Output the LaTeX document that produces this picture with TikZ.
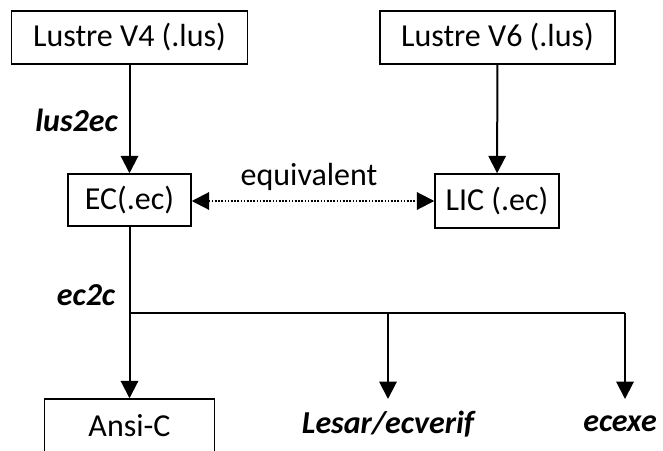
\documentclass[tikz,border=0pt]{standalone}
\usepackage{fontspec}
\setmainfont{Carlito}
\usetikzlibrary{arrows.meta}
\begin{document}
\begin{tikzpicture}[x=0.75pt,y=-0.75pt,
  box/.style={draw,line width=1.1pt,inner sep=0pt,font=\fontsize{24}{28}\selectfont},
  lbl/.style={inner sep=0pt,font=\fontsize{24}{28}\selectfont},
  tool/.style={inner sep=0pt,font=\fontsize{24}{28}\selectfont\bfseries\itshape},
  arr/.style={line width=1.5pt,-{Triangle[length=13pt,width=13pt]}},
  dotarr/.style={line width=1.5pt,dash pattern=on 1.2pt off 1.2pt,{Triangle[length=13pt,width=13pt]}-{Triangle[length=13pt,width=13pt]}},
  ln/.style={line width=1.5pt}]
\useasboundingbox (0,0) rectangle (663,450);
\node[box,minimum width=177pt,minimum height=39.75pt] (v4) at (129.5,37.5) {Lustre V4 (.lus)};
\node[box,minimum width=176.25pt,minimum height=39.75pt] (v6) at (497.5,37.5) {Lustre V6 (.lus)};
\node[box,minimum width=92.25pt,minimum height=39pt] (ec) at (129.5,200) {EC(.ec)};
\node[box,minimum width=93pt,minimum height=40.5pt] (lic) at (497,201) {LIC (.ec)};
\node[box,minimum width=127.5pt,minimum height=40.5pt] (ansi) at (129.5,426) {Ansi-C};
\node[tool] (lesar) at (388,424) {Lesar/ecverif};
\node[tool] (ecexe) at (620,424) {ecexe};
\node[tool] (l2e) at (76.5,120) {lus2ec};
\node[tool] (e2c) at (86,295) {ec2c};
\node[lbl] (eq) at (309,177) {equivalent};
\coordinate (j) at (129.5,313);
\coordinate (b1) at (388,313);
\coordinate (b2) at (625,313);
\coordinate (t1) at (388,399);
\coordinate (t2) at (625,399);
\draw[arr] (v4) -- (ec);
\draw[arr] (v6) -- (lic);
\draw[dotarr] (ec.east |- 0,201) -- (lic.west);
\draw[arr] (ec) -- (ansi);
\draw[ln] (j) -- (b2);
\draw[arr] (b1) -- (t1);
\draw[arr] (b2) -- (t2);
\end{tikzpicture}
\end{document}
